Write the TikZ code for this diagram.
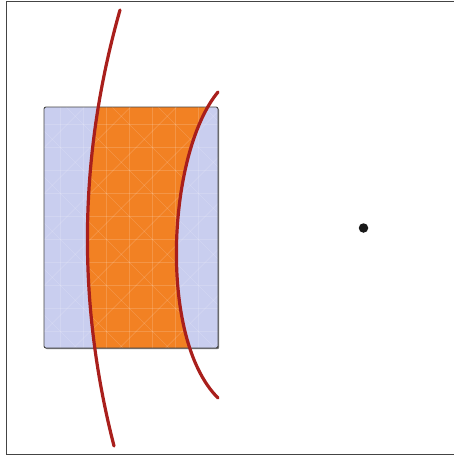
\documentclass[tikz,border=0pt]{standalone}
\definecolor{lav}{HTML}{C9CEEF}
\definecolor{org}{HTML}{F28123}
\definecolor{redc}{HTML}{A91F1C}
\definecolor{frm}{HTML}{444444}
\tikzset{
  curve/.style={draw=redc, line width=3.2pt, line cap=round},
  tex/.style={draw=white, opacity=0.16, line width=0.6pt},
}
\begin{document}
\begin{tikzpicture}[x=1pt,y=-1pt]
\useasboundingbox (0,0) rectangle (454,455);
% frame
\draw[frm, line width=1pt] (6,1) rectangle (454,454);
% shadow
\fill[black!55, rounded corners=2pt] (45.2,108.2) rectangle (219.2,349.2);
% rectangle body
\fill[lav, rounded corners=2pt] (44,107) rectangle (218,348);
% orange region between the curves
\begin{scope}
  \clip[rounded corners=2pt] (44,107) rectangle (218,348);
  \fill[org] (120,10) .. controls (78.67,155.33) and (76.67,300.67) .. (114,446)
    -- (218,398) .. controls (157.5,337.5) and (167.8,152.5) .. (218,92) -- cycle;
  % faint texture
  \foreach \i in {0,...,7} {
    \draw[tex] (60.3+23*\i,100) -- (60.3+23*\i,355);
  }
  \foreach \j in {-4,...,7} {
    \draw[tex] (40,193.3+23*\j) -- (222,193.3+23*\j);
  }
  \foreach \k in {-8,...,8} {
    \draw[tex] (60.3+46*\k,101.3) -- ++(260,260);
    \draw[tex] (60.3+46*\k+260,101.3) -- ++(-260,260);
  }
\end{scope}
\draw[frm, line width=0.9pt, rounded corners=2pt] (44,107) rectangle (218,348);
% red curves
\draw[curve] (120,10) .. controls (78.67,155.33) and (76.67,300.67) .. (114,446);
\draw[curve] (218,92) .. controls (167.8,152.5) and (157.5,337.5) .. (218,398);
% dot
\node[circle, fill=black!90, minimum size=9.5pt, inner sep=0pt] (dot) at (363.5,228) {};
\end{tikzpicture}
\end{document}
